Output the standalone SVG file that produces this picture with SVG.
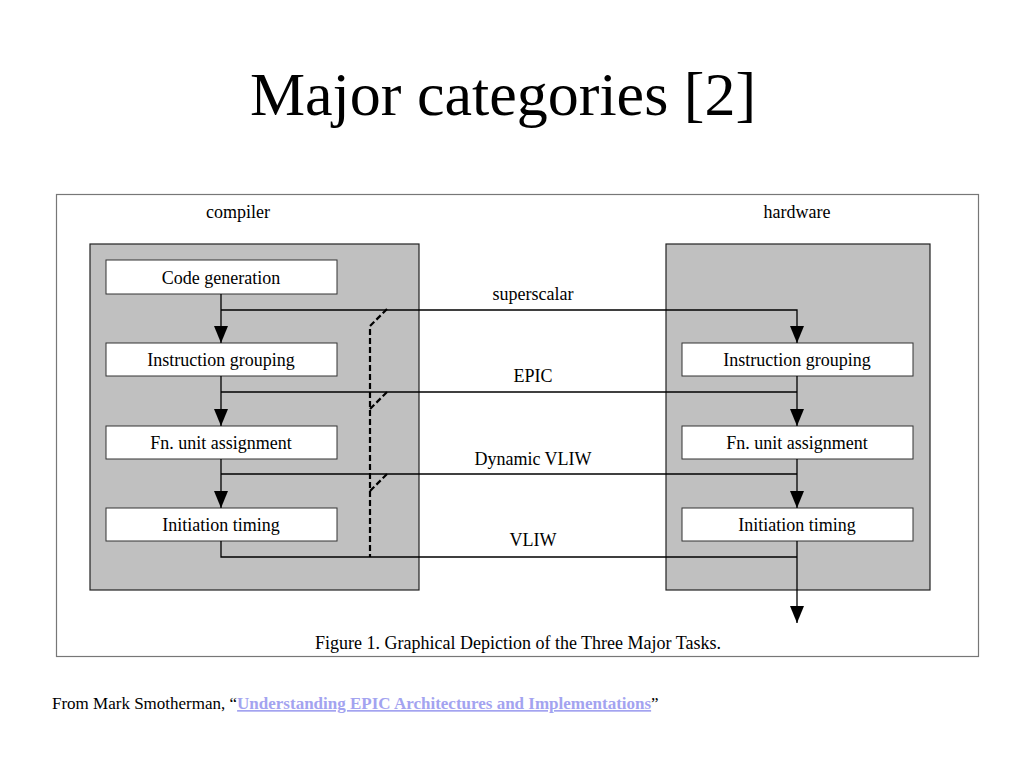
<svg xmlns="http://www.w3.org/2000/svg" width="1024" height="768" viewBox="0 0 1024 768">
<style>
text{font-family:"Liberation Serif","Times New Roman",serif;fill:#000}
.grp{fill:#c0c0c0;stroke:#222;stroke-width:1.2}
.box{fill:#fff;stroke:#333;stroke-width:1}
.lbl{font-size:18px;text-anchor:middle}
.ln{fill:none;stroke:#000;stroke-width:1.3}
.dash{fill:none;stroke:#000;stroke-width:2.2;stroke-dasharray:6,3}
</style>
<defs>
<marker id="ah" viewBox="0 0 17 14" refX="17" refY="7" markerWidth="17" markerHeight="14" markerUnits="userSpaceOnUse" orient="auto">
<path d="M0,0 L17,7 L0,14 Z" fill="#000"/>
</marker>
</defs>
<rect width="1024" height="768" fill="#fff"/>
<text x="503" y="115" font-size="62" text-anchor="middle">Major categories [2]</text>
<rect x="56.5" y="194.5" width="922" height="462" fill="#fff" stroke="#777" stroke-width="1.2"/>
<text x="238" y="218" class="lbl">compiler</text>
<text x="797" y="218" class="lbl">hardware</text>
<g id="compiler">
<rect class="grp" x="90" y="244" width="329" height="346"/>
</g>
<g id="hardware">
<rect class="grp" x="666" y="244" width="264" height="346"/>
</g>
<g id="c-codegen"><rect class="box" x="106" y="260" width="231" height="34"/><text class="lbl" x="221" y="284">Code generation</text></g>
<g id="c-group"><rect class="box" x="106" y="343" width="231" height="33"/><text class="lbl" x="221" y="366">Instruction grouping</text></g>
<g id="c-fn"><rect class="box" x="106" y="426" width="231" height="33"/><text class="lbl" x="221" y="449">Fn. unit assignment</text></g>
<g id="c-init"><rect class="box" x="106" y="508" width="231" height="33"/><text class="lbl" x="221" y="531">Initiation timing</text></g>
<g id="h-group"><rect class="box" x="682" y="343" width="231" height="33"/><text class="lbl" x="797" y="366">Instruction grouping</text></g>
<g id="h-fn"><rect class="box" x="682" y="426" width="231" height="33"/><text class="lbl" x="797" y="449">Fn. unit assignment</text></g>
<g id="h-init"><rect class="box" x="682" y="508" width="231" height="33"/><text class="lbl" x="797" y="531">Initiation timing</text></g>
<g id="connectors">
<line class="ln" x1="221" y1="294" x2="221" y2="343" marker-end="url(#ah)"/>
<line class="ln" x1="221" y1="376" x2="221" y2="426" marker-end="url(#ah)"/>
<line class="ln" x1="221" y1="459" x2="221" y2="508" marker-end="url(#ah)"/>
<polyline class="ln" points="221,310 797,310 797,343" marker-end="url(#ah)"/>
<polyline class="ln" points="221,392 797,392"/>
<polyline class="ln" points="221,474 797,474"/>
<polyline class="ln" points="221,541 221,557 797,557"/>
<line class="ln" x1="797" y1="376" x2="797" y2="426" marker-end="url(#ah)"/>
<line class="ln" x1="797" y1="459" x2="797" y2="508" marker-end="url(#ah)"/>
<line class="ln" x1="797" y1="541" x2="797" y2="623" marker-end="url(#ah)"/>
<polyline class="dash" points="387,309 370,326 370,557"/>
<line class="dash" x1="387" y1="392" x2="370" y2="409"/>
<line class="dash" x1="387" y1="474" x2="370" y2="491"/>
</g>
<text class="lbl" x="533" y="300">superscalar</text>
<text class="lbl" x="533" y="382">EPIC</text>
<text class="lbl" x="533" y="465">Dynamic VLIW</text>
<text class="lbl" x="533" y="546">VLIW</text>
<text class="lbl" x="518" y="649">Figure 1. Graphical Depiction of the Three Major Tasks.</text>
<text x="52" y="709" font-size="17">From Mark Smotherman, “<tspan fill="#a3a3f0" font-weight="bold" text-decoration="underline">Understanding EPIC Architectures and Implementations</tspan>”</text>
</svg>
